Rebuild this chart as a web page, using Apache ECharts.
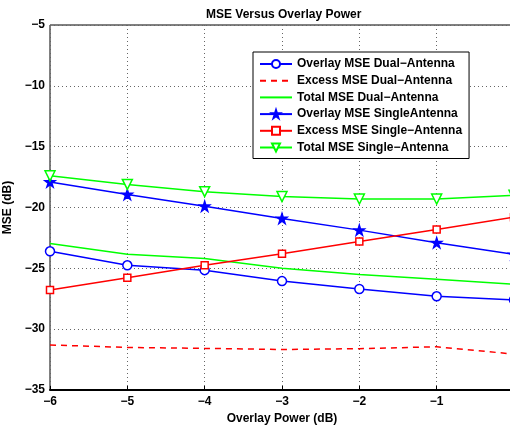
<!DOCTYPE html>
<html><head><meta charset="utf-8">
<script src="https://cdn.jsdelivr.net/npm/echarts@6/dist/echarts.min.js"></script>
<style>html,body{margin:0;padding:0;background:#fff}#c{width:510px;height:426px}</style>
</head><body><div id="c"></div>
<script>
const xValues = [-6, -5, -4, -3, -2, -1, 0];
const overlayDual = [-23.6, -24.75, -25.15, -26.05, -26.7, -27.3, -27.6];
const excessDual = [-31.3, -31.5, -31.58, -31.67, -31.6, -31.45, -32.05];
const totalDual = [-22.95, -23.85, -24.2, -25.0, -25.5, -25.9, -26.3];
const overlaySingle = [-17.9, -18.93, -19.9, -20.9, -21.86, -22.9, -23.85];
const excessSingle = [-26.78, -25.77, -24.75, -23.8, -22.8, -21.8, -20.8];
const totalSingle = [-17.4, -18.1, -18.7, -19.1, -19.3, -19.3, -19.0];
const seriesNames = ['Overlay MSE Dual\u2212Antenna','Excess MSE Dual\u2212Antenna','Total MSE Dual\u2212Antenna','Overlay MSE SingleAntenna','Excess MSE Single\u2212Antenna','Total MSE Single\u2212Antenna'];

const pair = arr => xValues.map((x, i) => [x, arr[i]]);
const star = 'path://M100,0L122.45,69.1L195.1,69.1L136.3,111.8L158.8,180.9L100,138.2L41.2,180.9L63.7,111.8L4.9,69.1L77.55,69.1Z';
const FONT = 'Liberation Sans, Arial, sans-serif';
const fmt = v => String(v).replace('-', '\u2212');
const noMarker = {color: 'rgba(0,0,0,0)', borderColor: 'rgba(0,0,0,0)', borderWidth: 0, opacity: 0};

const chart = echarts.init(document.getElementById('c'), null, {renderer: 'canvas'});
const mk = (name, data, color, symbol, size, opts) => Object.assign({
  name, type: 'line', data: pair(data), symbol, symbolSize: size,
  lineStyle: {color, width: 1.5}, itemStyle: {color, borderColor: color, borderWidth: 1.5},
  showSymbol: symbol !== 'none', animation: false, z: 3
}, opts || {});

chart.setOption({
  animation: false,
  textStyle: {fontFamily: FONT},
  title: {text: 'MSE Versus Overlay Power', left: 201, top: 4,
    textStyle: {fontFamily: FONT, fontSize: 12, fontWeight: 'bold', color: '#000'}},
  grid: {left: 50, right: -4, top: 25, bottom: 36, show: true, borderColor: '#000', borderWidth: 1,
    containLabel: false, outerBoundsMode: 'none'},
  legend: {
    orient: 'vertical', left: 253, top: 52, padding: [6, 7, 5, 6],
    backgroundColor: '#fff', borderColor: '#000', borderWidth: 1,
    itemWidth: 32, itemHeight: 10, itemGap: 4.7,
    textStyle: {fontFamily: FONT, fontSize: 12, fontWeight: 'bold', color: '#000'},
    data: [
      {name: seriesNames[0]},
      {name: seriesNames[1], itemStyle: noMarker},
      {name: seriesNames[2], itemStyle: noMarker},
      {name: seriesNames[3]},
      {name: seriesNames[4]},
      {name: seriesNames[5]}
    ]
  },
  xAxis: {
    type: 'value', min: -6, max: 0, interval: 1,
    name: 'Overlay Power (dB)', nameLocation: 'middle', nameGap: 19,
    nameTextStyle: {fontFamily: FONT, fontSize: 12, fontWeight: 'bold', color: '#000'},
    axisLine: {lineStyle: {color: '#000', width: 2}},
    axisTick: {inside: true, length: 4, lineStyle: {color: '#000'}},
    axisLabel: {formatter: fmt, margin: 6, fontFamily: FONT, fontSize: 12, fontWeight: 'bold', color: '#000'},
    splitLine: {show: true, lineStyle: {type: [1, 3], color: '#666', width: 1}}
  },
  yAxis: {
    type: 'value', min: -35, max: -5, interval: 5,
    name: 'MSE (dB)', nameLocation: 'middle', nameGap: 32,
    nameTextStyle: {fontFamily: FONT, fontSize: 12, fontWeight: 'bold', color: '#000'},
    axisLine: {show: true, lineStyle: {color: '#000', width: 2}},
    axisTick: {show: true, inside: true, length: 4, lineStyle: {color: '#000'}},
    axisLabel: {formatter: fmt, margin: 5, fontFamily: FONT, fontSize: 12, fontWeight: 'bold', color: '#000'},
    splitLine: {show: true, lineStyle: {type: [1, 3], color: '#666', width: 1}}
  },
  series: [
    mk(seriesNames[0], overlayDual, '#0000ff', 'circle', 9, {itemStyle: {color: '#fff', borderColor: '#0000ff', borderWidth: 1.5}}),
    mk(seriesNames[1], excessDual, '#ff0000', 'none', 0, {lineStyle: {color: '#ff0000', width: 1.5, type: [6, 5]}}),
    mk(seriesNames[2], totalDual, '#00ff00', 'none', 0),
    mk(seriesNames[3], overlaySingle, '#0000ff', star, 10),
    mk(seriesNames[4], excessSingle, '#ff0000', 'rect', 7, {itemStyle: {color: '#fff', borderColor: '#ff0000', borderWidth: 1.5}}),
    mk(seriesNames[5], totalSingle, '#00ff00', 'triangle', 10, {symbolRotate: 180, itemStyle: {color: '#fff', borderColor: '#00ff00', borderWidth: 1.5}})
  ]
});
</script></body></html>
